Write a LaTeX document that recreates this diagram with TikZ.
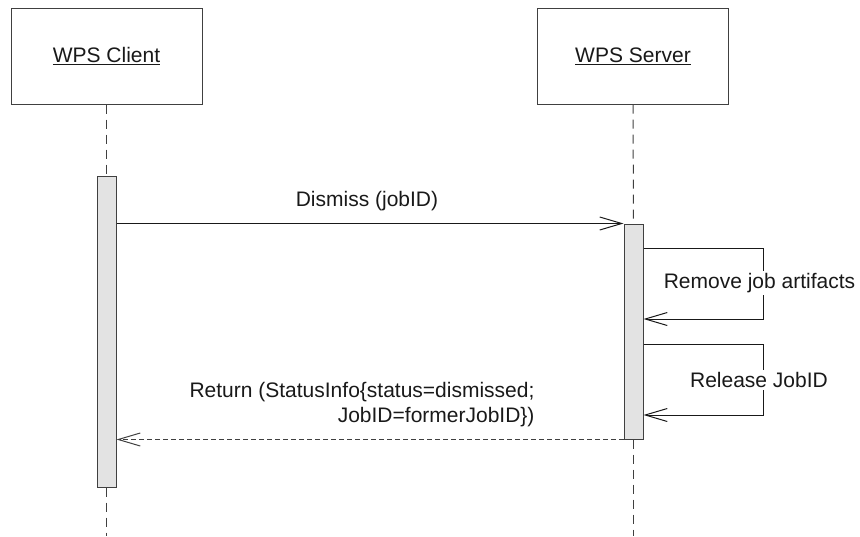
\documentclass[tikz,border=0pt]{standalone}
\usepackage{fontspec}
\setmainfont{Liberation Sans}
\usetikzlibrary{arrows.meta}
\begin{document}
\begin{tikzpicture}[x=1pt,y=-1pt,
  every node/.style={font=\fontsize{21}{25}\selectfont, text=black!90},
  actor/.style={draw=black!75, line width=1pt, minimum width=191pt, minimum height=96pt, inner sep=0pt},
  bar/.style={draw=black!75, fill=black!11, line width=1pt, minimum width=19pt, inner sep=0pt},
  life/.style={draw=black!75, line width=1pt, dash pattern=on 9pt off 6pt},
  msg/.style={draw=black!90, line width=1pt, -{Straight Barb[length=22pt,width=13pt,line width=1pt]}},
  ret/.style={draw=black!75, line width=1pt, dash pattern=on 5pt off 3pt, -{Straight Barb[length=22pt,width=13pt,line width=1pt]}},
  lbl/.style={fill=white, inner sep=2pt}]
\useasboundingbox (0,0) rectangle (860,536);
% actors
\node[actor] (client) at (106.5,56) {\underline{WPS Client}};
\node[actor] (server) at (633,56) {\underline{WPS Server}};
% activation bars
\node[bar, minimum height=311pt] (cbar) at (106.5,331.5) {};
\node[bar, minimum height=215pt] (sbar) at (633.5,331.5) {};
% lifeline ends
\coordinate (cend) at (106.5,536);
\coordinate (send) at (633.5,536);
\draw[life] (client.south) -- (cbar.north);
\draw[life] (cbar.south) -- (cend);
\draw[life] (server.south) -- (sbar.north);
\draw[life] (sbar.south) -- (send);
% dismiss
\draw[msg] (cbar.east |- sbar.north) -- (sbar.north west);
\node (dlbl) at (367,201) {Dismiss (jobID)};
% self call 1
\coordinate (a1) at (763,248);
\coordinate (a2) at (763,319);
\draw[msg] (sbar.east |- a1) -- (a1) -- (a2) -- (sbar.east |- a2);
\node[lbl] (l1) at (759.5,283) {Remove job artifacts};
% self call 2
\coordinate (b1) at (763,344);
\coordinate (b2) at (763,415);
\draw[msg] (sbar.east |- b1) -- (b1) -- (b2) -- (sbar.east |- b2);
\node[lbl] (l2) at (759,380) {Release JobID};
% return
\draw[ret] (sbar.south west) -- (cbar.east |- sbar.south);
\node[align=right, inner sep=0pt] (rlbl) at (362,404.5) {Return (StatusInfo\{status=dismissed;\\JobID=formerJobID\})};
\end{tikzpicture}
\end{document}
